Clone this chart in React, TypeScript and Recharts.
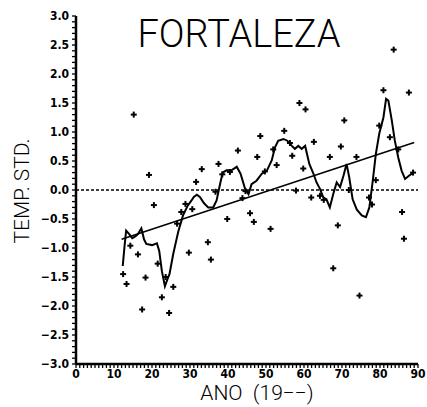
import React from 'react';
import { ComposedChart, Scatter, Line, XAxis, YAxis, ReferenceLine } from 'recharts';

// Annual standardized temperature observations (x = year 19xx)
const obsYears = [
  12.4, 13.3, 14.3, 15.2, 16.3, 17.4, 18.3, 19.2, 20.5, 21.5, 22.6, 23.6, 24.5, 25.6, 26.6, 27.7,
  28.8, 29.7, 30.6, 31.6, 33.1, 34.7, 35.5, 36.7, 37.5, 38.5, 39.8, 40.5, 42.6, 43.8, 44.6, 45.8,
  46.8, 47.7, 48.5, 49.7, 51.2, 51.9, 52.8, 54.8, 56.3, 56.9, 57.9, 58.8, 59.8, 60.4, 61.9, 62.6,
  64.2, 65.2, 66.8, 67.7, 68.9, 69.7, 70.6, 71.8, 73.8, 74.6, 77.1, 77.9, 78.9, 79.8, 80.9, 82.6,
  83.6, 84.8, 85.8, 86.3, 87.6, 88.7,
];
const obsValues = [
  -1.45, -1.62, -0.96, 1.3, -1.11, -2.06, -1.51, 0.26, -0.26, -1.27, -1.85, -1.5, -2.12, -1.67, -0.58, -0.38,
  -0.24, -1.08, -0.33, 0.14, 0.36, -0.9, -1.2, -0.03, 0.45, 0.27, -0.5, 0.31, 0.68, -0.14, -0.02, -0.4,
  -0.55, 0.57, 0.93, 0.32, -0.67, 0.7, 0.43, 1.02, 0.81, 0.59, -0.01, 1.5, 0.37, 1.39, -0.13, 0.83,
  -0.1, -0.17, 0.57, -1.35, -0.61, 0.75, 1.2, 0.0, 0.57, -1.82, -0.13, -0.25, 0.17, 1.11, 1.72, 0.91,
  2.42, 0.7, -0.38, -0.84, 1.68, 0.3,
];

// Smoothed (running mean) curve
const smoothYears = [
  12.3, 12.8, 13.2, 14.0, 14.8, 15.6, 16.3, 17.2, 17.9, 18.5, 20.0, 21.3, 21.9, 22.6, 23.4, 24.0,
  24.6, 25.6, 26.9, 28.2, 29.4, 30.4, 31.0, 31.8, 32.6, 33.7, 34.8, 36.1, 37.0, 37.9, 38.6, 39.6,
  40.9, 42.3, 43.3, 44.5, 45.4, 46.2, 47.5, 48.9, 50.2, 51.5, 52.4, 53.2, 54.6, 55.6, 56.8, 57.6,
  58.5, 59.4, 60.3, 61.4, 62.5, 63.3, 64.2, 65.1, 65.9, 66.8, 67.7, 68.6, 69.5, 70.4, 71.2, 71.9,
  72.8, 73.9, 75.2, 76.3, 77.2, 78.1, 78.9, 79.8, 80.9, 81.6, 82.2, 83.1, 83.9, 84.8, 85.7, 86.6,
  87.7, 88.8,
];
const smoothValues = [
  -1.31, -0.95, -0.7, -0.76, -0.83, -0.8, -0.76, -0.66, -0.85, -0.93, -0.95, -0.92, -1.05, -1.4, -1.66, -1.55,
  -1.45, -1.1, -0.72, -0.43, -0.27, -0.18, -0.12, -0.08, -0.12, -0.23, -0.3, -0.3, -0.18, 0.1, 0.3, 0.34,
  0.34, 0.4, 0.28, 0.02, -0.07, 0.1, 0.16, 0.28, 0.33, 0.51, 0.74, 0.85, 0.88, 0.85, 0.76, 0.71,
  0.76, 0.71, 0.76, 0.45, 0.28, 0.13, 0.02, -0.13, -0.16, -0.3, -0.07, 0.13, 0.05, 0.25, 0.45, 0.22,
  -0.16, -0.34, -0.44, -0.47, -0.3, 0.16, 0.62, 0.97, 1.25, 1.57, 1.54, 1.2, 0.85, 0.56, 0.33, 0.19,
  0.25, 0.3,
];

// Linear trend end points
const trendYears = [12, 89];
const trendValues = [-0.85, 0.82];

// Axis labels
const xMajorTicks = [0, 10, 20, 30, 40, 50, 60, 70, 80, 90];
const yMajorTicks = [-3, -2.5, -2, -1.5, -1, -0.5, 0, 0.5, 1, 1.5, 2, 2.5, 3];

const obsData = obsYears.map((x, i) => ({ x, y: obsValues[i] }));
const smoothData = smoothYears.map((x, i) => ({ x, y: smoothValues[i] }));
const trendData = trendYears.map((x, i) => ({ x, y: trendValues[i] }));

const xMinorTicks: number[] = [];
for (let i = 0; i <= 90; i++) xMinorTicks.push(i);
const yMinorTicks: number[] = [];
for (let i = -30; i <= 30; i++) yMinorTicks.push(i / 10);

const tickFont = '"DejaVu Sans Condensed", "DejaVu Sans", sans-serif';
const labelFont = 'Roboto, "Liberation Sans", Arial, sans-serif';

const XTick = (props: any) => {
  const { x, y, payload } = props;
  if (!xMajorTicks.includes(payload.value)) return <g />;
  return (
    <text x={x} y={y} dy="0.71em" textAnchor="middle" fontSize={12} fontWeight="bold" fontFamily={tickFont} fill="#000">
      {payload.value}
    </text>
  );
};

const fmtY = (v: number) => (v < 0 ? '\u2212' + Math.abs(v).toFixed(1) : v.toFixed(1));

const YTick = (props: any) => {
  const { x, y, payload } = props;
  const v = Math.round(payload.value * 10) / 10;
  if (!yMajorTicks.some((t) => Math.abs(t - v) < 1e-6)) return <g />;
  return (
    <text x={x} y={y} dy="0.35em" textAnchor="end" fontSize={12} fontWeight="bold" fontFamily={tickFont} fill="#000">
      {fmtY(v)}
    </text>
  );
};

const PlusMark = (props: any) => {
  const { cx, cy } = props;
  if (cx == null || cy == null) return <g />;
  return (
    <g>
      <line x1={cx - 3} x2={cx + 3} y1={cy} y2={cy} stroke="#000" strokeWidth={2} />
      <line x1={cx} x2={cx} y1={cy - 3} y2={cy + 3} stroke="#000" strokeWidth={2} />
    </g>
  );
};

export default function App() {
  return (
    <div style={{ position: 'absolute', left: 0, top: 0, width: 427, height: 407, background: '#fff' }}>
      <ComposedChart width={427} height={407} margin={{ top: 16, right: 9, bottom: 0, left: 0 }}>
        <XAxis
          type="number"
          dataKey="x"
          domain={[0, 90]}
          ticks={xMinorTicks}
          interval={0}
          tickSize={4}
          tickMargin={1}
          tickLine={{ stroke: '#000', strokeWidth: 1.3 }}
          axisLine={{ stroke: '#000', strokeWidth: 2.5 }}
          tick={XTick}
          height={43}
          allowDataOverflow
        />
        <YAxis
          type="number"
          dataKey="y"
          domain={[-3, 3]}
          ticks={yMinorTicks}
          interval={0}
          tickSize={4}
          tickMargin={3}
          tickLine={{ stroke: '#000', strokeWidth: 1.3 }}
          axisLine={{ stroke: '#000', strokeWidth: 2.5 }}
          tick={YTick}
          width={76}
          allowDataOverflow
        />
        <ReferenceLine y={0} stroke="#000" strokeWidth={1.5} strokeDasharray="3 2" ifOverflow="extendDomain" />
        <Line data={trendData} dataKey="y" type="linear" stroke="#000" strokeWidth={1.5} dot={false} isAnimationActive={false} />
        <Line data={smoothData} dataKey="y" type="linear" stroke="#000" strokeWidth={2} dot={false} isAnimationActive={false} />
        <Scatter data={obsData} dataKey="y" shape={PlusMark} isAnimationActive={false} />
      </ComposedChart>
      <div
        style={{
          position: 'absolute', left: 126, top: 15, width: 226, textAlign: 'center',
          fontFamily: labelFont, fontWeight: 300, fontSize: 38, lineHeight: '38px', color: '#000',
        }}
      >
        FORTALEZA
      </div>
      <div
        style={{
          position: 'absolute', left: -48, top: 181, width: 140, height: 20, textAlign: 'center',
          fontFamily: labelFont, fontWeight: 300, fontSize: 21, lineHeight: '20px', color: '#000',
          transform: 'rotate(-90deg)', whiteSpace: 'nowrap',
        }}
      >
        TEMP. STD.
      </div>
      <div
        style={{
          position: 'absolute', left: 167, top: 383, width: 180, textAlign: 'center',
          fontFamily: labelFont, fontWeight: 300, fontSize: 21, lineHeight: '21px', color: '#000',
          whiteSpace: 'pre',
        }}
      >
        {'ANO  (19\u2212\u2212)'}
      </div>
    </div>
  );
}
